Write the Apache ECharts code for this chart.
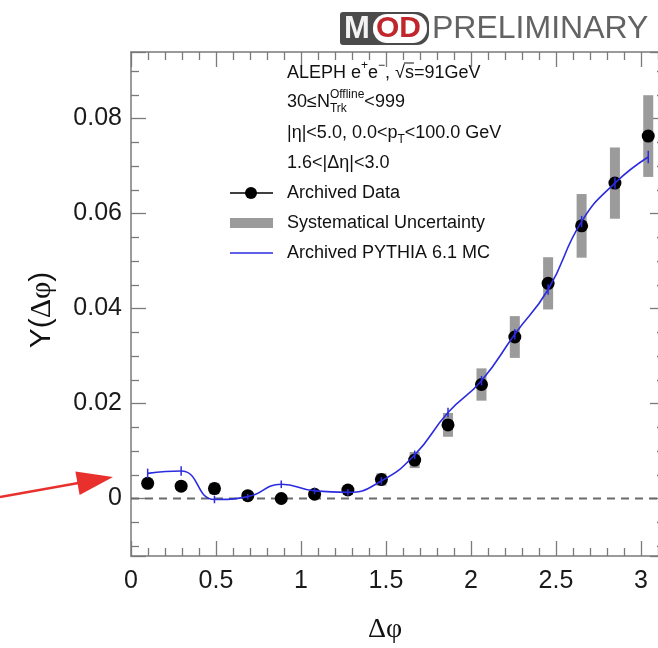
<!DOCTYPE html>
<html><head><meta charset="utf-8">
<script src="https://cdn.jsdelivr.net/npm/echarts@6/dist/echarts.min.js"></script>
<style>html,body{margin:0;padding:0;background:#fff}#c{width:658px;height:648px}</style>
</head><body><div id="c"></div><script>
// ---- data ----
const dphi   = [0.098, 0.295, 0.491, 0.687, 0.884, 1.080, 1.276, 1.473, 1.669, 1.865, 2.062, 2.258, 2.454, 2.651, 2.847, 3.043];
const dataY  = [0.0032, 0.0026, 0.0021, 0.0006, 0.0000, 0.0009, 0.0018, 0.0040, 0.0081, 0.0155, 0.0240, 0.0340, 0.0453, 0.0574, 0.0664, 0.0763];
const sysErr = [0.0010, 0.0009, 0.0012, 0.0008, 0.0008, 0.0008, 0.0010, 0.0013, 0.0017, 0.0025, 0.0034, 0.0044, 0.0055, 0.0067, 0.0075, 0.0086];
const mcY    = [0.0053, 0.0058, -0.0002, 0.0004, 0.0030, 0.0016, 0.0013, 0.0037, 0.0092, 0.0181, 0.0248, 0.0346, 0.0440, 0.0583, 0.0664, 0.0719];
const mcErr  = [0.0010, 0.0010, 0.0008, 0.0006, 0.0008, 0.0007, 0.0007, 0.0008, 0.0009, 0.0010, 0.0010, 0.0011, 0.0011, 0.0012, 0.0012, 0.0013];
const xRange = [0, Math.PI];
const yRange = [-0.0121, 0.094];
const xStep = 0.5, yStep = 0.02;
const legendNames = ['Archived Data', 'Systematical Uncertainty', 'Archived PYTHIA 6.1 MC'];

// ---- style ----
const SANS = '"Liberation Sans", Arial, Helvetica, sans-serif';
const SERIF = '"Liberation Serif", "Times New Roman", serif';
const AX = '#7a7a7a';
const BLUE = '#2b2be0';
const GRAY = '#9b9b9b';

const chart = echarts.init(document.getElementById('c'), null, {renderer: 'canvas'});

const ctx = document.createElement('canvas').getContext('2d');
function tw(t, size) { ctx.font = size + 'px ' + SANS; return ctx.measureText(t).width; }
function txt(t, x, y, size, opts) {
  opts = opts || {};
  return {type: 'text', x: x, y: y, silent: true, z: 100,
    style: {text: t, fill: opts.fill || '#111', fontSize: size, fontFamily: opts.family || SANS,
      fontWeight: opts.weight || 'normal', align: opts.align || 'left', verticalAlign: 'middle'}};
}
// lay out segments: [text, size, dy]
function segs(x, y, list) {
  const out = []; let cx = x;
  list.forEach(s => {
    if (Array.isArray(s[0])) { // stacked pair
      const a = s[0], b = s[1];
      out.push(txt(a[0], cx, y + a[2], a[1]));
      out.push(txt(b[0], cx, y + b[2], b[1]));
      cx += Math.max(tw(a[0], a[1]), tw(b[0], b[1]));
    } else {
      out.push(txt(s[0], cx, y + s[2], s[1]));
      cx += tw(s[0], s[1]);
    }
  });
  return {els: out, end: cx};
}

const graphics = [];
const TX = 287, FS = 18, SS = 12;
// line 1
{
  const a = segs(TX, 73, [['ALEPH e', FS, 0], ['+', SS, -7], ['e', FS, 0], ['−', SS, -7], [', √', FS, 0]]);
  graphics.push(...a.els);
  const b = segs(a.end, 73, [['s', FS, 0]]);
  graphics.push(...b.els);
  graphics.push({type: 'line', silent: true, z: 100, shape: {x1: a.end - 1, y1: 63, x2: b.end, y2: 63}, style: {stroke: '#111', lineWidth: 1}});
  graphics.push(...segs(b.end, 73, [['=91GeV', FS, 0]]).els);
}
graphics.push(...segs(TX, 102, [['30≤N', FS, 0], [['Offline', SS, -7], ['Trk', SS, 7]], ['<999', FS, 0]]).els);
graphics.push(...segs(TX, 133, [['|η|<5.0, 0.0<p', FS, 0], ['T', SS, 7], ['<100.0 GeV', FS, 0]]).els);
graphics.push(...segs(TX, 163, [['1.6<|Δη|<3.0', FS, 0]]).els);
// legend
graphics.push({type: 'line', silent: true, z: 100, shape: {x1: 230, y1: 193, x2: 273, y2: 193}, style: {stroke: '#000', lineWidth: 1.5}});
graphics.push({type: 'circle', silent: true, z: 100, shape: {cx: 251, cy: 193, r: 6}, style: {fill: '#000'}});
graphics.push(txt(legendNames[0], TX, 193, FS));
graphics.push({type: 'rect', silent: true, z: 100, shape: {x: 230, y: 218, width: 43, height: 10}, style: {fill: GRAY}});
graphics.push(txt(legendNames[1], TX, 223, FS));
graphics.push({type: 'line', silent: true, z: 100, shape: {x1: 230, y1: 253, x2: 273, y2: 253}, style: {stroke: BLUE, lineWidth: 1.5}});
graphics.push(txt(legendNames[2], TX, 253, FS));
// axis titles
graphics.push({type: 'text', x: 385, y: 630, silent: true, style: {text: 'Δφ', fontSize: 28, fontFamily: SERIF, fill: '#111', align: 'center', verticalAlign: 'middle'}});
graphics.push({type: 'text', x: 42, y: 310, rotation: Math.PI / 2, silent: true,
  style: {text: '{a|Y(}{b|Δφ}{a|)}', align: 'center', verticalAlign: 'middle',
    rich: {a: {fontSize: 30, fontFamily: SANS, fill: '#111'}, b: {fontSize: 30, fontFamily: SERIF, fill: '#111'}}}});
// logo
graphics.push({type: 'rect', silent: true, shape: {x: 340, y: 12, width: 89, height: 33, r: [3, 12, 12, 3]}, style: {fill: '#4b4b4b'}});
graphics.push({type: 'rect', silent: true, shape: {x: 373, y: 14, width: 54, height: 29, r: 14}, style: {fill: '#ffffff'}});
graphics.push(txt('M', 344, 29, 31, {fill: '#f2f2f2', weight: 'bold'}));
graphics.push(txt('OD', 376, 29, 30, {fill: '#c0272d', weight: 'bold'}));
graphics.push(txt('PRELIMINARY', 432, 29, 32, {fill: '#636363'}));
// red arrow
graphics.push({type: 'polyline', silent: true, z: 100, shape: {points: [[0, 497], [84, 482]]}, style: {stroke: '#e8302d', lineWidth: 2.5}});
graphics.push({type: 'polygon', silent: true, z: 100, shape: {points: [[113, 477], [79.6, 495], [75.4, 471.5]]}, style: {fill: '#e8302d'}});

const axisCommon = {
  type: 'value', splitLine: {show: false},
  axisLine: {show: true, onZero: false, lineStyle: {color: AX, width: 1.5}},
  axisTick: {show: true, inside: true, length: 15, lineStyle: {color: AX, width: 1.3}},
};

chart.setOption({
  animation: false,
  grid: {left: 131, top: 52, width: 534, height: 504, containLabel: false, outerBoundsMode: 'none'},
  xAxis: [
    Object.assign({}, axisCommon, {position: 'bottom', min: xRange[0], max: xRange[1], minInterval: xStep, maxInterval: xStep,
      minorTick: {show: true, splitNumber: 5, length: 8, lineStyle: {color: AX, width: 1.3}},
      axisLabel: {show: true, fontSize: 25, fontFamily: SANS, color: '#1a1a1a', margin: 13, showMaxLabel: false}}),
    Object.assign({}, axisCommon, {position: 'top', min: xRange[0], max: xRange[1], minInterval: xStep, maxInterval: xStep,
      minorTick: {show: true, splitNumber: 5, length: 8, lineStyle: {color: AX, width: 1.3}},
      axisLabel: {show: false}})
  ],
  yAxis: [
    Object.assign({}, axisCommon, {position: 'left', min: yRange[0], max: yRange[1], minInterval: yStep, maxInterval: yStep,
      minorTick: {show: true, splitNumber: 4, length: 8, lineStyle: {color: AX, width: 1.3}},
      axisLabel: {show: true, fontSize: 25, fontFamily: SANS, color: '#1a1a1a', margin: 9, showMinLabel: false, showMaxLabel: false}}),
    Object.assign({}, axisCommon, {position: 'right', min: yRange[0], max: yRange[1], minInterval: yStep, maxInterval: yStep,
      minorTick: {show: true, splitNumber: 4, length: 8, lineStyle: {color: AX, width: 1.3}},
      axisLabel: {show: false}})
  ],
  graphic: graphics,
  series: [
    {
      name: 'sys', type: 'custom', z: 1,
      data: dphi.map((x, i) => [x, dataY[i], sysErr[i]]),
      encode: {x: 0, y: 1},
      renderItem: function (params, api) {
        const x = api.value(0), y = api.value(1), e = api.value(2);
        const p1 = api.coord([x, y + e]), p2 = api.coord([x, y - e]);
        return {type: 'rect', shape: {x: p1[0] - 5, y: p1[1], width: 10, height: p2[1] - p1[1]}, style: {fill: GRAY}};
      }
    },
    {
      name: 'zero', type: 'line', z: 2, symbol: 'none', silent: true,
      data: [[xRange[0], 0], [xRange[1], 0]],
      lineStyle: {color: '#6a6a6a', width: 2, type: [8, 6]}
    },
    {
      name: legendNames[0], type: 'scatter', z: 3, symbol: 'circle', symbolSize: 13,
      itemStyle: {color: '#000', opacity: 1},
      data: dphi.map((x, i) => [x, dataY[i]])
    },
    {
      name: legendNames[2], type: 'line', z: 4, smooth: 0.5, symbol: 'none',
      lineStyle: {color: BLUE, width: 1.6},
      data: dphi.map((x, i) => [x, mcY[i]])
    },
    {
      name: 'mcErr', type: 'custom', z: 5,
      data: dphi.map((x, i) => [x, mcY[i], mcErr[i]]),
      encode: {x: 0, y: 1},
      renderItem: function (params, api) {
        const x = api.value(0), y = api.value(1), e = api.value(2);
        const p1 = api.coord([x, y + e]), p2 = api.coord([x, y - e]);
        return {type: 'line', shape: {x1: p1[0], y1: p1[1], x2: p2[0], y2: p2[1]}, style: {stroke: BLUE, lineWidth: 1.5}};
      }
    }
  ]
});
</script></body></html>
